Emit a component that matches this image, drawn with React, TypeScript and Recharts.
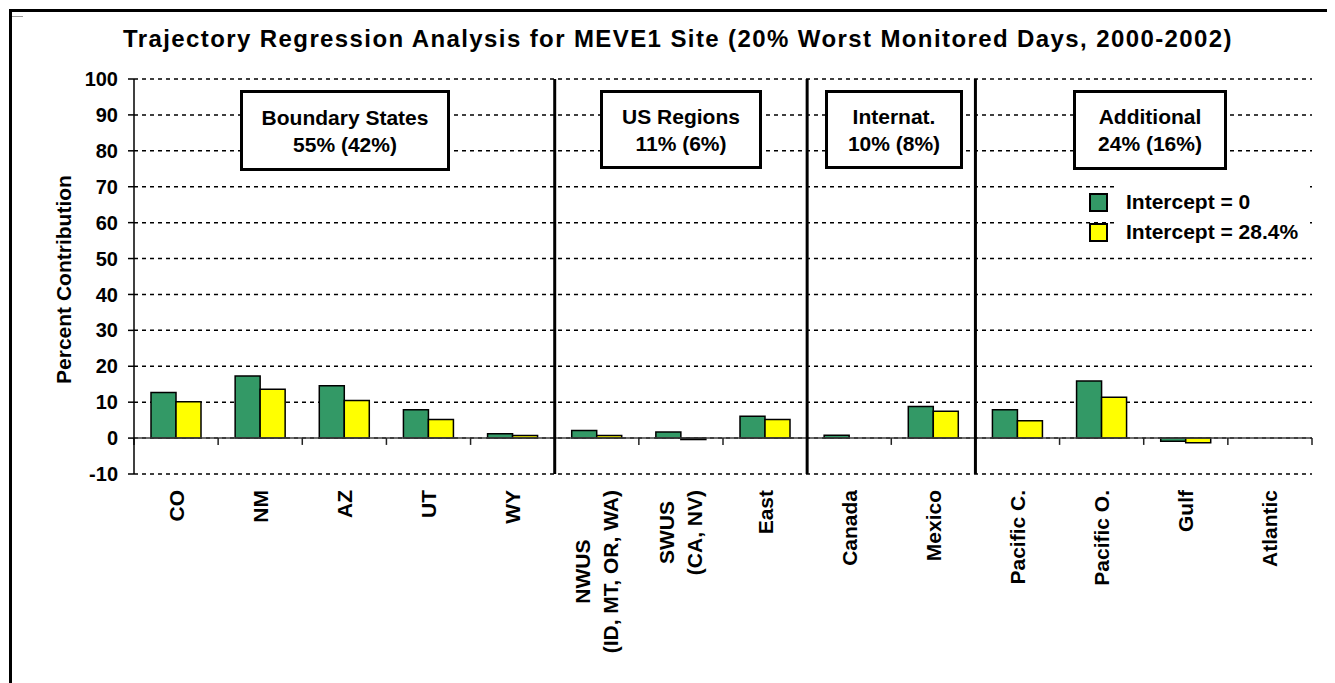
import { BarChart, Bar, XAxis, YAxis, CartesianGrid, ReferenceLine, ReferenceArea, Legend } from "recharts";

const FONT = "'Liberation Sans', Arial, sans-serif";
const LABEL_FONT = `bold 21px ${FONT}`;

const categories = [
  "CO",
  "NM",
  "AZ",
  "UT",
  "WY",
  "NWUS\n(ID, MT, OR, WA)",
  "SWUS\n(CA, NV)",
  "East",
  "Canada",
  "Mexico",
  "Pacific C.",
  "Pacific O.",
  "Gulf",
  "Atlantic",
];

// Intercept = 0
const interceptZero = [12.7, 17.3, 14.6, 7.9, 1.2, 2.1, 1.7, 6.1, 0.8, 8.8, 7.9, 15.9, -0.9, 0];
// Intercept = 28.4%
const interceptFixed = [10.1, 13.6, 10.5, 5.2, 0.75, 0.7, -0.4, 5.2, 0, 7.5, 4.8, 11.4, -1.3, 0];

const yTicks = [-10, 0, 10, 20, 30, 40, 50, 60, 70, 80, 90, 100];

// first category of each group after the first one
const groupStarts = ["NWUS\n(ID, MT, OR, WA)", "Canada", "Pacific C."];

const groupTitles = ["Boundary States", "US Regions", "Internat.", "Additional"];
const groupShares = ["55% (42%)", "11% (6%)", "10% (8%)", "24% (16%)"];

const boxLayout = [
  { left: 240, width: 210, height: 81 },
  { left: 600, width: 162, height: 79 },
  { left: 825, width: 138, height: 79 },
  { left: 1073, width: 154, height: 80 },
];

const data = categories.map((name, i) => ({
  name,
  zero: interceptZero[i],
  fixed: interceptFixed[i],
}));

let measureCtx: CanvasRenderingContext2D | null = null;
function textWidth(s: string, font: string) {
  if (!measureCtx) measureCtx = document.createElement("canvas").getContext("2d");
  if (!measureCtx) return s.length * 11;
  measureCtx.font = font;
  return measureCtx.measureText(s).width;
}

function CategoryTick(props: any) {
  const { x, y, payload } = props;
  const lines = String(payload.value).split("\n");
  const len = Math.max(...lines.map((l) => textWidth(l, LABEL_FONT)));
  return (
    <g transform={`translate(${x},${y + len / 2}) rotate(-90)`}>
      {lines.map((l, i) => (
        <text
          key={i}
          x={0}
          y={(i - (lines.length - 1) / 2) * 28}
          dy="0.36em"
          textAnchor="middle"
          fill="#000"
          fontSize={21}
          fontWeight="bold"
          fontFamily={FONT}
        >
          {l}
        </text>
      ))}
    </g>
  );
}

function LegendBox(props: any) {
  const items = props.payload || [];
  return (
    <div style={{ position: "relative", fontFamily: FONT }}>
      <div style={{ position: "absolute", left: 31, top: -4, width: 188, height: 68, background: "#fff" }} />
      {items.map((item: any) => (
        <div key={item.value} style={{ position: "relative", display: "flex", alignItems: "center", height: 30 }}>
          <span
            style={{
              width: 15,
              height: 15,
              border: "2px solid #000",
              background: item.color,
              marginLeft: 2,
              marginRight: 18,
            }}
          />
          <span style={{ fontSize: 21, fontWeight: "bold", color: "#000" }}>{item.value}</span>
        </div>
      ))}
    </div>
  );
}

export default function App() {
  return (
    <div
      style={{
        position: "relative",
        width: 1335,
        height: 683,
        margin: "-8px 0 0 -8px",
        overflow: "hidden",
        background: "#fff",
        fontFamily: FONT,
      }}
    >
      <BarChart
        width={1335}
        height={683}
        data={data}
        margin={{ top: 79, right: 23, bottom: 29, left: 54 }}
        barGap={0}
      >
        <ReferenceArea fill="none" stroke="#808080" strokeWidth={1.5} ifOverflow="visible" />
        <CartesianGrid vertical={false} stroke="#000" strokeWidth={1.5} strokeDasharray="4 4" />
        <XAxis
          dataKey="name"
          height={180}
          interval={0}
          tickSize={0}
          tickMargin={16}
          axisLine={false}
          tickLine={false}
          tick={CategoryTick}
        />
        <YAxis
          width={80}
          domain={[-10, 100]}
          ticks={yTicks}
          interval={0}
          tickSize={6}
          tickMargin={10}
          axisLine={{ stroke: "#000", strokeWidth: 1.5 }}
          tickLine={{ stroke: "#000", strokeWidth: 1.5 }}
          tick={{ fill: "#000", fontSize: 20, fontWeight: "bold", fontFamily: FONT }}
          label={{
            content: (p: any) => {
              const vb = p.viewBox || { x: 54, y: 79, width: 80, height: 395 };
              const cx = vb.x + 17;
              const cy = vb.y + vb.height / 2 + 3;
              return (
                <text
                  x={cx}
                  y={cy}
                  transform={`rotate(-90 ${cx} ${cy})`}
                  textAnchor="middle"
                  fill="#000"
                  fontSize={21}
                  fontWeight="bold"
                  fontFamily={FONT}
                >
                  Percent Contribution
                </text>
              );
            },
          }}
        />
        <ReferenceLine y={0} stroke="#404040" strokeWidth={1.5} />
        {categories.map((c) => (
          <ReferenceLine
            key={"t" + c}
            segment={[
              { x: c, y: 0 },
              { x: c, y: -1.9 },
            ]}
            position="start"
            stroke="#222"
            strokeWidth={1.5}
          />
        ))}
        <ReferenceLine
          segment={[
            { x: categories[categories.length - 1], y: 0 },
            { x: categories[categories.length - 1], y: -1.9 },
          ]}
          position="end"
          stroke="#222"
          strokeWidth={1.5}
        />
        {groupStarts.map((c) => (
          <ReferenceLine key={"g" + c} x={c} position="start" stroke="#000" strokeWidth={3} />
        ))}
        <Bar
          dataKey="zero"
          name="Intercept = 0"
          fill="#339966"
          stroke="#000"
          strokeWidth={1.5}
          barSize={25}
          isAnimationActive={false}
        />
        <Bar
          dataKey="fixed"
          name="Intercept = 28.4%"
          fill="#FFFF00"
          stroke="#000"
          strokeWidth={1.5}
          barSize={25}
          isAnimationActive={false}
        />
        <Legend
          layout="vertical"
          align="center"
          verticalAlign="middle"
          content={LegendBox}
          wrapperStyle={{ left: 1087, top: 187, width: 220, height: 62 }}
        />
      </BarChart>

      <div
        style={{
          position: "absolute",
          left: 9,
          top: 9,
          width: 1340,
          height: 690,
          borderTop: "3px solid #000",
          borderLeft: "3px solid #000",
          pointerEvents: "none",
        }}
      />
      <div style={{ position: "absolute", left: 12, top: 16, width: 11, height: 1, background: "#999" }} />

      <div
        style={{
          position: "absolute",
          left: 0,
          top: 25,
          width: 1356,
          textAlign: "center",
          fontSize: 24,
          letterSpacing: "1.4px",
          fontWeight: "bold",
          lineHeight: "28px",
          color: "#000",
          whiteSpace: "nowrap",
        }}
      >
        Trajectory Regression Analysis for MEVE1 Site (20% Worst Monitored Days, 2000-2002)
      </div>

      {groupTitles.map((t, i) => (
        <div
          key={t}
          style={{
            position: "absolute",
            left: boxLayout[i].left,
            top: 90,
            width: boxLayout[i].width,
            height: boxLayout[i].height,
            boxSizing: "border-box",
            border: "3px solid #000",
            background: "#fff",
            display: "flex",
            flexDirection: "column",
            alignItems: "center",
            justifyContent: "center",
            fontSize: 21,
            fontWeight: "bold",
            lineHeight: "27px",
            color: "#000",
          }}
        >
          <div>{t}</div>
          <div>{groupShares[i]}</div>
        </div>
      ))}
    </div>
  );
}
